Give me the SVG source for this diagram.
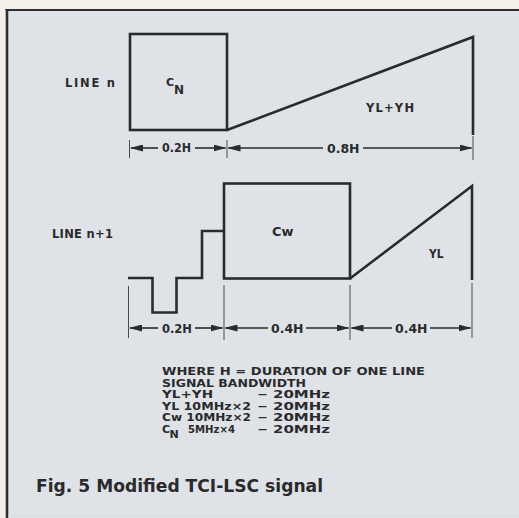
<svg xmlns="http://www.w3.org/2000/svg" width="519" height="518" viewBox="0 0 519 518">
  <style>
    .sig { fill: none; stroke: #2b2b2d; stroke-width: 2.6; stroke-linejoin: miter; }
    .tick { stroke: #4a4a4c; stroke-width: 1; }
    .dim { stroke: #2b2b2d; stroke-width: 1.6; }
    text { font-family: "DejaVu Sans", "Liberation Sans", sans-serif; font-weight: bold; fill: #2a2a2c; }
    .lbl { font-size: 11.5px; }
    .leg { font-size: 11px; }
    .title { font-size: 17px; }
  </style>
  <defs>
    <marker id="ah" markerUnits="userSpaceOnUse" markerWidth="13" markerHeight="7" refX="12" refY="3.5" orient="auto">
      <path d="M0,0 L13,3.5 L0,7 z" fill="#2b2b2d"/>
    </marker>
  </defs>

  <!-- page and frame -->
  <rect x="0" y="0" width="519" height="518" fill="#f3f1e7"/>
  <rect x="7" y="10" width="512" height="508" fill="#dfe3e8"/>
  <line x1="5.5" y1="10" x2="519" y2="10" stroke="#2e2e30" stroke-width="2.2"/>
  <line x1="7" y1="9" x2="7" y2="518" stroke="#2e2e30" stroke-width="2.6"/>
  <line x1="8" y1="516.5" x2="519" y2="516.5" stroke="#cfe3dc" stroke-width="1.2"/>

  <!-- LINE n -->
  <g id="line-n-label"><text class="lbl" x="65" y="86.5" textLength="50" lengthAdjust="spacing">LINE n</text></g>
  <g id="cn-pulse">
    <rect class="sig" x="130" y="34" width="97" height="96"/>
    <text x="166" y="86" style="font-size:11px">C</text>
    <text x="174" y="94" style="font-size:12px">N</text>
  </g>
  <g id="ylyh-ramp">
    <polyline class="sig" points="227,130 473,37 473,135"/>
    <text class="lbl" x="366" y="111.5" textLength="48" lengthAdjust="spacing">YL+YH</text>
  </g>

  <!-- LINE n+1 -->
  <g id="line-n1-label"><text class="lbl" x="52" y="238" textLength="61" lengthAdjust="spacing">LINE n+1</text></g>
  <g id="sync-steps">
    <polyline class="sig" points="128,278 152.5,278 152.5,312.5 176.5,312.5 176.5,278 202,278 202,231 224,231"/>
  </g>
  <g id="cw-pulse">
    <rect class="sig" x="224" y="183.5" width="126" height="95"/>
    <text class="lbl" x="272" y="235.5" textLength="21.5" lengthAdjust="spacingAndGlyphs">Cw</text>
  </g>
  <g id="yl-ramp">
    <polyline class="sig" points="350,278.5 472,186 472,280"/>
    <text class="lbl" x="429" y="258" textLength="14.5" lengthAdjust="spacingAndGlyphs">YL</text>
  </g>

  <!-- dimension connectors -->
  <g id="connectors">
    <line class="tick" x1="129.5" y1="140" x2="129.5" y2="158"/>
    <line class="tick" x1="227" y1="140" x2="227" y2="158"/>
    <line class="tick" x1="473" y1="136" x2="473" y2="160"/>
    <line class="dim" x1="158" y1="148" x2="131" y2="148" marker-end="url(#ah)"/>
    <line class="dim" x1="195" y1="148" x2="225.5" y2="148" marker-end="url(#ah)"/>
    <line class="dim" x1="323" y1="148" x2="228.5" y2="148" marker-end="url(#ah)"/>
    <line class="dim" x1="363" y1="148" x2="471.5" y2="148" marker-end="url(#ah)"/>

    <line class="tick" x1="128.5" y1="286" x2="128.5" y2="338"/>
    <line class="tick" x1="224" y1="285" x2="224" y2="340"/>
    <line class="tick" x1="350" y1="285" x2="350" y2="340"/>
    <line class="tick" x1="472" y1="283" x2="472" y2="338"/>
    <line class="dim" x1="158" y1="328" x2="130" y2="328" marker-end="url(#ah)"/>
    <line class="dim" x1="195" y1="328" x2="222.5" y2="328" marker-end="url(#ah)"/>
    <line class="dim" x1="268" y1="328" x2="225.5" y2="328" marker-end="url(#ah)"/>
    <line class="dim" x1="306" y1="328" x2="348.5" y2="328" marker-end="url(#ah)"/>
    <line class="dim" x1="392" y1="328" x2="351.5" y2="328" marker-end="url(#ah)"/>
    <line class="dim" x1="430" y1="328" x2="470.5" y2="328" marker-end="url(#ah)"/>
  </g>

  <!-- dimension labels -->
  <g id="dim-labels">
    <text class="lbl" x="162" y="152" textLength="29" lengthAdjust="spacingAndGlyphs">0.2H</text>
    <text class="lbl" x="327" y="152.5" textLength="32.5" lengthAdjust="spacingAndGlyphs">0.8H</text>
    <text class="lbl" x="162" y="332.5" textLength="30" lengthAdjust="spacingAndGlyphs">0.2H</text>
    <text class="lbl" x="271" y="333" textLength="32.5" lengthAdjust="spacingAndGlyphs">0.4H</text>
    <text class="lbl" x="395" y="333" textLength="32.5" lengthAdjust="spacingAndGlyphs">0.4H</text>
  </g>

  <!-- legend -->
  <g id="legend">
    <text class="leg" x="162" y="375" textLength="263" lengthAdjust="spacingAndGlyphs">WHERE H = DURATION OF ONE LINE</text>
    <text class="leg" x="162" y="386.5" textLength="144" lengthAdjust="spacingAndGlyphs">SIGNAL BANDWIDTH</text>
    <text class="leg" x="162" y="398" textLength="51" lengthAdjust="spacingAndGlyphs">YL+YH</text>
    <text class="leg" x="162" y="409.5" textLength="89" lengthAdjust="spacingAndGlyphs">YL 10MHz×2</text>
    <text class="leg" x="162" y="421" textLength="89" lengthAdjust="spacingAndGlyphs">Cw 10MHz×2</text>
    <text class="leg" x="162" y="432.5">C</text>
    <text class="leg" x="169.5" y="437.5">N</text>
    <text class="leg" x="188" y="432.5" textLength="47" lengthAdjust="spacingAndGlyphs">5MHz×4</text>
    <text class="leg" x="258" y="398" textLength="9" lengthAdjust="spacingAndGlyphs">—</text>
    <text class="leg" x="258" y="409.5" textLength="9" lengthAdjust="spacingAndGlyphs">—</text>
    <text class="leg" x="258" y="421" textLength="9" lengthAdjust="spacingAndGlyphs">—</text>
    <text class="leg" x="258" y="432.5" textLength="9" lengthAdjust="spacingAndGlyphs">—</text>
    <text class="leg" x="273" y="398" textLength="57" lengthAdjust="spacingAndGlyphs">20MHz</text>
    <text class="leg" x="273" y="409.5" textLength="57" lengthAdjust="spacingAndGlyphs">20MHz</text>
    <text class="leg" x="273" y="421" textLength="57" lengthAdjust="spacingAndGlyphs">20MHz</text>
    <text class="leg" x="273" y="432.5" textLength="57" lengthAdjust="spacingAndGlyphs">20MHz</text>
  </g>

  <g id="caption">
    <text class="title" x="36" y="491.5" textLength="287" lengthAdjust="spacingAndGlyphs">Fig. 5 Modified TCI-LSC signal</text>
  </g>
</svg>
